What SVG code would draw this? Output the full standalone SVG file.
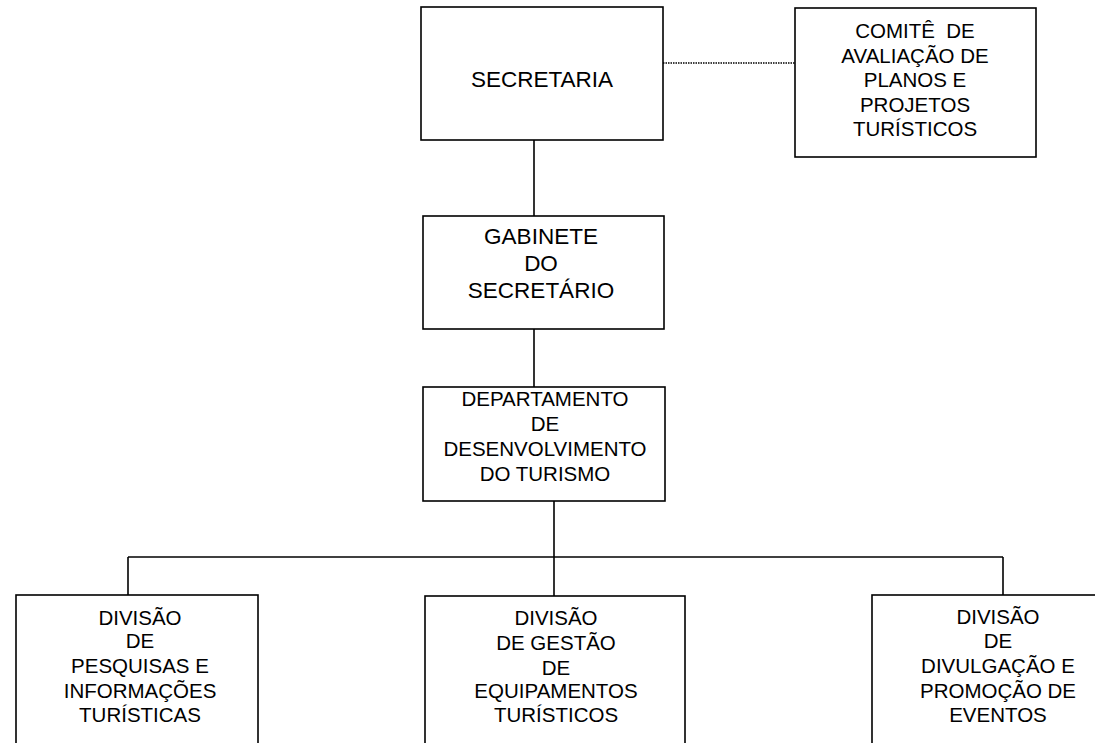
<svg xmlns="http://www.w3.org/2000/svg" width="1095" height="743" viewBox="0 0 1095 743">
<style>
.box{fill:#fff;stroke:#000;stroke-width:1.6}
.ln{fill:none;stroke:#000;stroke-width:1.6}
.dot{fill:none;stroke:#000;stroke-width:1.6;stroke-dasharray:1.5 1}
text{font-family:"Liberation Sans",Arial,sans-serif;fill:#000;text-anchor:middle}
.t23{font-size:22.5px}
.t21{font-size:20.5px}
</style>
<rect width="1095" height="743" fill="#fff"/>
<g id="connectors">
<line class="dot" x1="663" y1="63" x2="795" y2="63"/>
<line class="ln" x1="534" y1="140" x2="534" y2="216"/>
<line class="ln" x1="534" y1="329" x2="534" y2="387"/>
<line class="ln" x1="554" y1="501" x2="554" y2="596"/>
<line class="ln" x1="128" y1="557" x2="1003" y2="557"/>
<line class="ln" x1="128" y1="557" x2="128" y2="595"/>
<line class="ln" x1="1003" y1="557" x2="1003" y2="595"/>
</g>
<g id="secretaria">
<rect class="box" x="421" y="7" width="242" height="133"/>
<text class="t23" x="542" y="87">SECRETARIA</text>
</g>
<g id="comite">
<rect class="box" x="795" y="8" width="241" height="149"/>
<text class="t21" x="915" y="38" style="white-space:pre">COMITÊ  DE</text>
<text class="t21" x="915" y="63">AVALIAÇÃO DE</text>
<text class="t21" x="915" y="87">PLANOS E</text>
<text class="t21" x="915" y="112">PROJETOS</text>
<text class="t21" x="915" y="136">TURÍSTICOS</text>
</g>
<g id="gabinete">
<rect class="box" x="423" y="216" width="241" height="113"/>
<text class="t23" x="541" y="244">GABINETE</text>
<text class="t23" x="541" y="271">DO</text>
<text class="t23" x="541" y="298">SECRETÁRIO</text>
</g>
<g id="departamento">
<rect class="box" x="423" y="387" width="242" height="114"/>
<text class="t21" x="545" y="406">DEPARTAMENTO</text>
<text class="t21" x="545" y="431">DE</text>
<text class="t21" x="545" y="456">DESENVOLVIMENTO</text>
<text class="t21" x="545" y="481">DO TURISMO</text>
</g>
<g id="div-pesquisas">
<rect class="box" x="16" y="595" width="242" height="170"/>
<text class="t21" x="140" y="625">DIVISÃO</text>
<text class="t21" x="140" y="648">DE</text>
<text class="t21" x="140" y="673">PESQUISAS E</text>
<text class="t21" x="140" y="698">INFORMAÇÕES</text>
<text class="t21" x="140" y="722">TURÍSTICAS</text>
</g>
<g id="div-gestao">
<rect class="box" x="425" y="596" width="260" height="170"/>
<text class="t21" x="556" y="625">DIVISÃO</text>
<text class="t21" x="556" y="650">DE GESTÃO</text>
<text class="t21" x="556" y="675">DE</text>
<text class="t21" x="556" y="698">EQUIPAMENTOS</text>
<text class="t21" x="556" y="722">TURÍSTICOS</text>
</g>
<g id="div-divulgacao">
<rect class="box" x="872" y="595" width="260" height="170"/>
<text class="t21" x="998" y="624">DIVISÃO</text>
<text class="t21" x="998" y="648">DE</text>
<text class="t21" x="998" y="673">DIVULGAÇÃO E</text>
<text class="t21" x="998" y="698">PROMOÇÃO DE</text>
<text class="t21" x="998" y="722">EVENTOS</text>
</g>
</svg>
